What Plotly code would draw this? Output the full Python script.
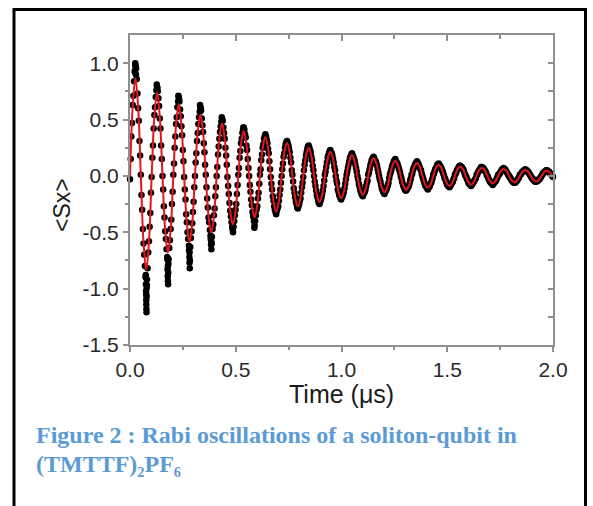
import plotly.graph_objects as go

# ---------------- data ----------------
# measured <Sx> samples, time in microseconds
t_us = [
    0, 0.0032, 0.0064, 0.0096, 0.0128, 0.016, 0.0192, 0.0224, 0.0256, 0.0288,
    0.032, 0.0352, 0.0384, 0.0416, 0.0448, 0.048, 0.0512, 0.0544, 0.0576, 0.0608,
    0.064, 0.0672, 0.0704, 0.0736, 0.0768, 0.08, 0.0832, 0.0864, 0.0896, 0.0928,
    0.096, 0.0992, 0.1024, 0.1056, 0.1088, 0.112, 0.1152, 0.1184, 0.1216, 0.1248,
    0.128, 0.1312, 0.1344, 0.1376, 0.1408, 0.144, 0.1472, 0.1504, 0.1536, 0.1568,
    0.16, 0.1632, 0.1664, 0.1696, 0.1728, 0.176, 0.1792, 0.1824, 0.1856, 0.1888,
    0.192, 0.1952, 0.1984, 0.2016, 0.2048, 0.208, 0.2112, 0.2144, 0.2176, 0.2208,
    0.224, 0.2272, 0.2304, 0.2336, 0.2368, 0.24, 0.2432, 0.2464, 0.2496, 0.2528,
    0.256, 0.2592, 0.2624, 0.2656, 0.2688, 0.272, 0.2752, 0.2784, 0.2816, 0.2848,
    0.288, 0.2912, 0.2944, 0.2976, 0.3008, 0.304, 0.3072, 0.3104, 0.3136, 0.3168,
    0.32, 0.3232, 0.3264, 0.3296, 0.3328, 0.336, 0.3392, 0.3424, 0.3456, 0.3488,
    0.352, 0.3552, 0.3584, 0.3616, 0.3648, 0.368, 0.3712, 0.3744, 0.3776, 0.3808,
    0.384, 0.3872, 0.3904, 0.3936, 0.3968, 0.4, 0.4032, 0.4064, 0.4096, 0.4128,
    0.416, 0.4192, 0.4224, 0.4256, 0.4288, 0.432, 0.4352, 0.4384, 0.4416, 0.4448,
    0.448, 0.4512, 0.4544, 0.4576, 0.4608, 0.464, 0.4672, 0.4704, 0.4736, 0.4768,
    0.48, 0.4832, 0.4864, 0.4896, 0.4928, 0.496, 0.4992, 0.5024, 0.5056, 0.5088,
    0.512, 0.5152, 0.5184, 0.5216, 0.5248, 0.528, 0.5312, 0.5344, 0.5376, 0.5408,
    0.544, 0.5472, 0.5504, 0.5536, 0.5568, 0.56, 0.5632, 0.5664, 0.5696, 0.5728,
    0.576, 0.5792, 0.5824, 0.5856, 0.5888, 0.592, 0.5952, 0.5984, 0.6016, 0.6048,
    0.608, 0.6112, 0.6144, 0.6176, 0.6208, 0.624, 0.6272, 0.6304, 0.6336, 0.6368,
    0.64, 0.6432, 0.6464, 0.6496, 0.6528, 0.656, 0.6592, 0.6624, 0.6656, 0.6688,
    0.672, 0.6752, 0.6784, 0.6816, 0.6848, 0.688, 0.6912, 0.6944, 0.6976, 0.7008,
    0.704, 0.7072, 0.7104, 0.7136, 0.7168, 0.72, 0.7232, 0.7264, 0.7296, 0.7328,
    0.736, 0.7392, 0.7424, 0.7456, 0.7488, 0.752, 0.7552, 0.7584, 0.7616, 0.7648,
    0.768, 0.7712, 0.7744, 0.7776, 0.7808, 0.784, 0.7872, 0.7904, 0.7936, 0.7968,
    0.8, 0.8032, 0.8064, 0.8096, 0.8128, 0.816, 0.8192, 0.8224, 0.8256, 0.8288,
    0.832, 0.8352, 0.8384, 0.8416, 0.8448, 0.848, 0.8512, 0.8544, 0.8576, 0.8608,
    0.864, 0.8672, 0.8704, 0.8736, 0.8768, 0.88, 0.8832, 0.8864, 0.8896, 0.8928,
    0.896, 0.8992, 0.9024, 0.9056, 0.9088, 0.912, 0.9152, 0.9184, 0.9216, 0.9248,
    0.928, 0.9312, 0.9344, 0.9376, 0.9408, 0.944, 0.9472, 0.9504, 0.9536, 0.9568,
    0.96, 0.9632, 0.9664, 0.9696, 0.9728, 0.976, 0.9792, 0.9824, 0.9856, 0.9888,
    0.992, 0.9952, 0.9984, 1.0016, 1.0048, 1.008, 1.0112, 1.0144, 1.0176, 1.0208,
    1.024, 1.0272, 1.0304, 1.0336, 1.0368, 1.04, 1.0432, 1.0464, 1.0496, 1.0528,
    1.056, 1.0592, 1.0624, 1.0656, 1.0688, 1.072, 1.0752, 1.0784, 1.0816, 1.0848,
    1.088, 1.0912, 1.0944, 1.0976, 1.1008, 1.104, 1.1072, 1.1104, 1.1136, 1.1168,
    1.12, 1.1232, 1.1264, 1.1296, 1.1328, 1.136, 1.1392, 1.1424, 1.1456, 1.1488,
    1.152, 1.1552, 1.1584, 1.1616, 1.1648, 1.168, 1.1712, 1.1744, 1.1776, 1.1808,
    1.184, 1.1872, 1.1904, 1.1936, 1.1968, 1.2, 1.2032, 1.2064, 1.2096, 1.2128,
    1.216, 1.2192, 1.2224, 1.2256, 1.2288, 1.232, 1.2352, 1.2384, 1.2416, 1.2448,
    1.248, 1.2512, 1.2544, 1.2576, 1.2608, 1.264, 1.2672, 1.2704, 1.2736, 1.2768,
    1.28, 1.2832, 1.2864, 1.2896, 1.2928, 1.296, 1.2992, 1.3024, 1.3056, 1.3088,
    1.312, 1.3152, 1.3184, 1.3216, 1.3248, 1.328, 1.3312, 1.3344, 1.3376, 1.3408,
    1.344, 1.3472, 1.3504, 1.3536, 1.3568, 1.36, 1.3632, 1.3664, 1.3696, 1.3728,
    1.376, 1.3792, 1.3824, 1.3856, 1.3888, 1.392, 1.3952, 1.3984, 1.4016, 1.4048,
    1.408, 1.4112, 1.4144, 1.4176, 1.4208, 1.424, 1.4272, 1.4304, 1.4336, 1.4368,
    1.44, 1.4432, 1.4464, 1.4496, 1.4528, 1.456, 1.4592, 1.4624, 1.4656, 1.4688,
    1.472, 1.4752, 1.4784, 1.4816, 1.4848, 1.488, 1.4912, 1.4944, 1.4976, 1.5008,
    1.504, 1.5072, 1.5104, 1.5136, 1.5168, 1.52, 1.5232, 1.5264, 1.5296, 1.5328,
    1.536, 1.5392, 1.5424, 1.5456, 1.5488, 1.552, 1.5552, 1.5584, 1.5616, 1.5648,
    1.568, 1.5712, 1.5744, 1.5776, 1.5808, 1.584, 1.5872, 1.5904, 1.5936, 1.5968,
    1.6, 1.6032, 1.6064, 1.6096, 1.6128, 1.616, 1.6192, 1.6224, 1.6256, 1.6288,
    1.632, 1.6352, 1.6384, 1.6416, 1.6448, 1.648, 1.6512, 1.6544, 1.6576, 1.6608,
    1.664, 1.6672, 1.6704, 1.6736, 1.6768, 1.68, 1.6832, 1.6864, 1.6896, 1.6928,
    1.696, 1.6992, 1.7024, 1.7056, 1.7088, 1.712, 1.7152, 1.7184, 1.7216, 1.7248,
    1.728, 1.7312, 1.7344, 1.7376, 1.7408, 1.744, 1.7472, 1.7504, 1.7536, 1.7568,
    1.76, 1.7632, 1.7664, 1.7696, 1.7728, 1.776, 1.7792, 1.7824, 1.7856, 1.7888,
    1.792, 1.7952, 1.7984, 1.8016, 1.8048, 1.808, 1.8112, 1.8144, 1.8176, 1.8208,
    1.824, 1.8272, 1.8304, 1.8336, 1.8368, 1.84, 1.8432, 1.8464, 1.8496, 1.8528,
    1.856, 1.8592, 1.8624, 1.8656, 1.8688, 1.872, 1.8752, 1.8784, 1.8816, 1.8848,
    1.888, 1.8912, 1.8944, 1.8976, 1.9008, 1.904, 1.9072, 1.9104, 1.9136, 1.9168,
    1.92, 1.9232, 1.9264, 1.9296, 1.9328, 1.936, 1.9392, 1.9424, 1.9456, 1.9488,
    1.952, 1.9552, 1.9584, 1.9616, 1.9648, 1.968, 1.9712, 1.9744, 1.9776, 1.9808,
    1.984, 1.9872, 1.9904, 1.9936, 1.9968, 2.0,
]

sx = [
    -0.03, 0.15, 0.35, 0.47, 0.63, 0.71, 0.84, 0.93, 0.98, 0.95, 0.86, 0.73, 0.60, 0.49, 0.31, 0.18,
    0.01, -0.17, -0.30, -0.47, -0.60, -0.70, -0.80, -0.90, -1.05, -0.97, -0.82, -0.68, -0.58, -0.45, -0.33, -0.15,
    -0.01, 0.16, 0.27, 0.42, 0.54, 0.61, 0.70, 0.76, 0.79, 0.75, 0.69, 0.62, 0.51, 0.42, 0.27, 0.15,
    0.00, -0.12, -0.27, -0.37, -0.49, -0.56, -0.65, -0.72, -0.80, -0.74, -0.64, -0.57, -0.47, -0.39, -0.25, -0.14,
    0.01, 0.11, 0.25, 0.35, 0.46, 0.52, 0.61, 0.66, 0.70, 0.66, 0.59, 0.53, 0.44, 0.36, 0.23, 0.13,
    -0.01, -0.12, -0.21, -0.34, -0.41, -0.50, -0.56, -0.62, -0.68, -0.63, -0.55, -0.49, -0.42, -0.32, -0.23, -0.10,
    0.00, 0.12, 0.20, 0.31, 0.38, 0.46, 0.52, 0.57, 0.61, 0.58, 0.51, 0.45, 0.39, 0.29, 0.21, 0.10,
    0.01, -0.10, -0.20, -0.28, -0.37, -0.41, -0.48, -0.53, -0.58, -0.54, -0.47, -0.43, -0.35, -0.29, -0.18, -0.10,
    0.00, 0.08, 0.19, 0.26, 0.33, 0.39, 0.44, 0.48, 0.51, 0.49, 0.43, 0.38, 0.33, 0.25, 0.18, 0.10,
    -0.01, -0.09, -0.16, -0.24, -0.31, -0.36, -0.41, -0.45, -0.48, -0.45, -0.40, -0.35, -0.30, -0.25, -0.16, -0.08,
    0.01, 0.07, 0.16, 0.22, 0.29, 0.33, 0.38, 0.41, 0.43, 0.41, 0.37, 0.34, 0.27, 0.23, 0.15, 0.07,
    0.00, -0.08, -0.14, -0.21, -0.26, -0.32, -0.36, -0.40, -0.44, -0.40, -0.35, -0.30, -0.27, -0.20, -0.15, -0.07,
    0.01, 0.06, 0.14, 0.19, 0.25, 0.28, 0.33, 0.35, 0.37, 0.35, 0.32, 0.29, 0.24, 0.20, 0.13, 0.06,
    -0.01, -0.07, -0.12, -0.18, -0.22, -0.27, -0.30, -0.32, -0.34, -0.31, -0.29, -0.27, -0.22, -0.17, -0.12, -0.06,
    0.00, 0.06, 0.11, 0.17, 0.20, 0.25, 0.28, 0.30, 0.31, 0.29, 0.27, 0.24, 0.21, 0.16, 0.12, 0.05,
    0.01, -0.05, -0.11, -0.15, -0.19, -0.23, -0.25, -0.28, -0.29, -0.27, -0.25, -0.22, -0.20, -0.15, -0.10, -0.06,
    -0.01, 0.05, 0.10, 0.14, 0.18, 0.21, 0.24, 0.26, 0.27, 0.25, 0.23, 0.21, 0.17, 0.14, 0.09, 0.05,
    0.00, -0.05, -0.09, -0.13, -0.17, -0.19, -0.22, -0.24, -0.25, -0.23, -0.21, -0.19, -0.16, -0.13, -0.09, -0.04,
    0.01, 0.04, 0.08, 0.12, 0.16, 0.18, 0.20, 0.22, 0.23, 0.21, 0.20, 0.18, 0.15, 0.12, 0.08, 0.05,
    0.00, -0.04, -0.07, -0.12, -0.14, -0.17, -0.18, -0.20, -0.21, -0.19, -0.18, -0.16, -0.14, -0.11, -0.07, -0.03,
    0.01, 0.04, 0.07, 0.10, 0.13, 0.16, 0.17, 0.19, 0.20, 0.18, 0.17, 0.15, 0.13, 0.10, 0.07, 0.04,
    0.00, -0.03, -0.07, -0.09, -0.12, -0.14, -0.16, -0.17, -0.18, -0.16, -0.15, -0.14, -0.12, -0.09, -0.06, -0.04,
    0.01, 0.03, 0.06, 0.09, 0.11, 0.14, 0.15, 0.16, 0.17, 0.15, 0.14, 0.13, 0.11, 0.09, 0.06, 0.03,
    0.00, -0.03, -0.05, -0.08, -0.11, -0.12, -0.14, -0.15, -0.16, -0.14, -0.13, -0.12, -0.10, -0.08, -0.06, -0.02,
    0.01, 0.03, 0.05, 0.08, 0.10, 0.11, 0.13, 0.14, 0.15, 0.13, 0.12, 0.11, 0.09, 0.07, 0.05, 0.03,
    0.00, -0.02, -0.05, -0.07, -0.09, -0.10, -0.12, -0.13, -0.13, -0.12, -0.11, -0.10, -0.09, -0.07, -0.04, -0.02,
    0.01, 0.02, 0.05, 0.07, 0.08, 0.10, 0.11, 0.12, 0.13, 0.11, 0.11, 0.09, 0.08, 0.06, 0.05, 0.02,
    0.00, -0.02, -0.04, -0.06, -0.08, -0.09, -0.10, -0.11, -0.12, -0.10, -0.10, -0.09, -0.07, -0.06, -0.04, -0.02,
    0.01, 0.02, 0.04, 0.06, 0.07, 0.08, 0.10, 0.10, 0.11, 0.10, 0.09, 0.08, 0.07, 0.05, 0.04, 0.02,
    0.00, -0.02, -0.03, -0.05, -0.07, -0.08, -0.09, -0.09, -0.10, -0.09, -0.08, -0.07, -0.06, -0.05, -0.03, -0.02,
    0.01, 0.02, 0.03, 0.05, 0.06, 0.07, 0.08, 0.09, 0.09, 0.08, 0.08, 0.07, 0.06, 0.05, 0.03, 0.01,
    0.00, -0.01, -0.03, -0.04, -0.06, -0.07, -0.07, -0.08, -0.09, -0.08, -0.07, -0.06, -0.05, -0.04, -0.03, -0.02,
    0.01, 0.01, 0.03, 0.04, 0.05, 0.06, 0.07, 0.08, 0.08, 0.07, 0.07, 0.06, 0.05, 0.04, 0.03, 0.01,
    0.00, -0.01, -0.03, -0.04, -0.05, -0.06, -0.06, -0.07, -0.08, -0.07, -0.06, -0.05, -0.05, -0.04, -0.02, -0.01,
    0.01, 0.01, 0.02, 0.03, 0.04, 0.05, 0.06, 0.06, 0.07, 0.06, 0.06, 0.05, 0.04, 0.03, 0.02, 0.01,
    0.00, -0.01, -0.02, -0.03, -0.04, -0.05, -0.05, -0.06, -0.06, -0.06, -0.05, -0.05, -0.04, -0.03, -0.02, -0.01,
    0.01, 0.01, 0.02, 0.03, 0.04, 0.04, 0.05, 0.05, 0.06, 0.05, 0.05, 0.04, 0.04, 0.03, 0.02, 0.01,
    0.00, -0.01, -0.02, -0.03, -0.03, -0.04, -0.05, -0.05, -0.05, -0.05, -0.04, -0.04, -0.03, -0.03, -0.02, -0.01,
    0.00, 0.01, 0.02, 0.03, 0.03, 0.04, 0.04, 0.05, 0.05, 0.04, 0.04, 0.04, 0.03, 0.02, 0.02, 0.01,
    0.00, -0.01,
]

# additional (repeated) samples clustered at the first extrema
t_us_extra = [
    0.0744, 0.0752, 0.0760, 0.0768, 0.0772, 0.0776, 0.0780, 0.0784, 0.0792, 0.0800,
    0.1768, 0.1776, 0.1784, 0.1792, 0.1800, 0.1808, 0.1816,
    0.2792, 0.2808, 0.2816, 0.2824, 0.2832,
    0.3816, 0.3832, 0.3848, 0.3864,
    0.4856, 0.4872, 0.5880,
    0.0232, 0.0248, 0.0264, 0.0280, 0.1264, 0.1296, 0.2288, 0.2320,
    0.3312, 0.3344, 0.4336, 0.5360,
]
sx_extra = [
    -0.88, -0.96, -1.02, -1.10, -1.14, -1.18, -1.21, -1.07, -0.99, -0.92,
    -0.74, -0.83, -0.89, -0.93, -0.96, -0.86, -0.78,
    -0.66, -0.72, -0.77, -0.82, -0.75,
    -0.56, -0.61, -0.65, -0.60,
    -0.47, -0.50, -0.46,
    0.92, 1.00, 0.97, 0.90, 0.81, 0.78, 0.71, 0.68,
    0.63, 0.60, 0.52, 0.43,
]

# red fitted curve (damped Rabi oscillation), read at 1/8-period nodes
t_fit = [
    0, 0.0128, 0.0256, 0.0384, 0.0512, 0.064, 0.0768, 0.0896, 0.1024, 0.1152,
    0.128, 0.1408, 0.1536, 0.1664, 0.1792, 0.192, 0.2048, 0.2176, 0.2304, 0.2432,
    0.256, 0.2688, 0.2816, 0.2944, 0.3072, 0.32, 0.3328, 0.3456, 0.3584, 0.3712,
    0.384, 0.3968, 0.4096, 0.4224, 0.4352, 0.448, 0.4608, 0.4736, 0.4864, 0.4992,
    0.512, 0.5248, 0.5376, 0.5504, 0.5632, 0.576, 0.5888, 0.6016, 0.6144, 0.6272,
    0.64, 0.6528, 0.6656, 0.6784, 0.6912, 0.704, 0.7168, 0.7296, 0.7424, 0.7552,
    0.768, 0.7808, 0.7936, 0.8064, 0.8192, 0.832, 0.8448, 0.8576, 0.8704, 0.8832,
    0.896, 0.9088, 0.9216, 0.9344, 0.9472, 0.96, 0.9728, 0.9856, 0.9984, 1.0112,
    1.024, 1.0368, 1.0496, 1.0624, 1.0752, 1.088, 1.1008, 1.1136, 1.1264, 1.1392,
    1.152, 1.1648, 1.1776, 1.1904, 1.2032, 1.216, 1.2288, 1.2416, 1.2544, 1.2672,
    1.28, 1.2928, 1.3056, 1.3184, 1.3312, 1.344, 1.3568, 1.3696, 1.3824, 1.3952,
    1.408, 1.4208, 1.4336, 1.4464, 1.4592, 1.472, 1.4848, 1.4976, 1.5104, 1.5232,
    1.536, 1.5488, 1.5616, 1.5744, 1.5872, 1.6, 1.6128, 1.6256, 1.6384, 1.6512,
    1.664, 1.6768, 1.6896, 1.7024, 1.7152, 1.728, 1.7408, 1.7536, 1.7664, 1.7792,
    1.792, 1.8048, 1.8176, 1.8304, 1.8432, 1.856, 1.8688, 1.8816, 1.8944, 1.9072,
    1.92, 1.9328, 1.9456, 1.9584, 1.9712, 1.984, 1.9968, 2.0,
]
sx_fit = [
    0, 0.613, 0.867, 0.613, 0, -0.587, -0.83, -0.587,
    0, 0.524, 0.741, 0.524, 0, -0.481, -0.68, -0.481,
    0, 0.449, 0.635, 0.449, 0, -0.415, -0.587, -0.415,
    0, 0.384, 0.543, 0.384, 0, -0.356, -0.503, -0.356,
    0, 0.329, 0.465, 0.329, 0, -0.304, -0.43, -0.304,
    0, 0.281, 0.398, 0.281, 0, -0.26, -0.368, -0.26,
    0, 0.244, 0.345, 0.244, 0, -0.223, -0.315, -0.223,
    0, 0.206, 0.292, 0.206, 0, -0.191, -0.27, -0.191,
    0, 0.177, 0.25, 0.177, 0, -0.163, -0.231, -0.163,
    0, 0.151, 0.214, 0.151, 0, -0.14, -0.198, -0.14,
    0, 0.129, 0.183, 0.129, 0, -0.119, -0.169, -0.119,
    0, 0.111, 0.157, 0.111, 0, -0.103, -0.145, -0.103,
    0, 0.095, 0.134, 0.095, 0, -0.088, -0.124, -0.088,
    0, 0.081, 0.115, 0.081, 0, -0.075, -0.106, -0.075,
    0, 0.07, 0.099, 0.07, 0, -0.064, -0.091, -0.064,
    0, 0.059, 0.084, 0.059, 0, -0.055, -0.078, -0.055,
    0, 0.051, 0.072, 0.051, 0, -0.047, -0.067, -0.047,
    0, 0.044, 0.062, 0.044, 0, -0.04, -0.057, -0.04,
    0, 0.037, 0.053, 0.037, 0, -0.035, -0.049, -0.035,
    0, 0.032, 0.045, 0.032,
    0, -0.006,
]

x_tick_vals = [0.0, 0.5, 1.0, 1.5, 2.0]
x_tick_text = ["0.0", "0.5", "1.0", "1.5", "2.0"]
x_minor_vals = [0.25, 0.75, 1.25, 1.75]
y_tick_vals = [-1.5, -1.0, -0.5, 0.0, 0.5, 1.0]
y_tick_text = ["-1.5", "-1.0", "-0.5", "0.0", "0.5", "1.0"]
y_minor_vals = [-1.25, -0.75, -0.25, 0.25, 0.75]
y_right_vals = [-1.25, -1.0, -0.75, -0.5, -0.25, 0.0, 0.25, 0.5, 0.75, 1.0]

x_title = "Time (μs)"
y_title = "&lt;Sx&gt;"
caption_1 = "Figure 2 : Rabi oscillations of a soliton-qubit in"
caption_2 = "(TMTTF)₂PF₆"

# ---------------- layout helpers ----------------
W, H = 593, 506
ML, MR, MT, MB = 130, 40, 35, 161
PW, PH = W - ML - MR, H - MT - MB


def px_x(p):
    return (p - ML) / PW


def px_y(p):
    return 1 - (p - MT) / PH


AX = "#8f8f8f"
SANS = "Liberation Sans, Arial, sans-serif"
SERIF = "Liberation Serif, Times New Roman, DejaVu Serif, serif"
TICKFONT = dict(family=SANS, size=21, color="#2a2a2a")
CAPFONT = dict(family=SERIF, size=24, color="#5b9bd5", weight="bold")

fig = go.Figure()
fig.add_trace(go.Scatter(
    x=t_us + t_us_extra, y=sx + sx_extra, mode="markers",
    marker=dict(color="black", size=6.5, line=dict(width=0)),
    cliponaxis=False, showlegend=False, hoverinfo="skip",
))
fig.add_trace(go.Scatter(
    x=t_fit, y=sx_fit, mode="lines",
    line=dict(color="#e3161d", width=2, shape="spline", smoothing=1.1),
    showlegend=False, hoverinfo="skip",
))
fig.add_trace(go.Scatter(x=[], y=[], xaxis="x2", yaxis="y2", showlegend=False))

fig.update_layout(
    width=W, height=H,
    margin=dict(l=ML, r=MR, t=MT, b=MB, pad=0),
    paper_bgcolor="white", plot_bgcolor="white",
    xaxis=dict(
        range=[0, 2.0], showgrid=False, zeroline=False,
        showline=True, linecolor=AX, linewidth=2,
        ticks="outside", ticklen=5, tickwidth=1.5, tickcolor=AX,
        tickmode="array", tickvals=x_tick_vals, ticktext=x_tick_text,
        tickfont=TICKFONT,
        minor=dict(tickmode="array", tickvals=x_minor_vals, ticks="outside",
                   ticklen=3, tickwidth=1.5, tickcolor=AX, showgrid=False),
    ),
    yaxis=dict(
        range=[-1.5, 1.25], showgrid=False, zeroline=False,
        showline=True, linecolor=AX, linewidth=2,
        ticks="outside", ticklen=5, tickwidth=1.5, tickcolor=AX,
        tickmode="array", tickvals=y_tick_vals, ticktext=y_tick_text,
        tickfont=TICKFONT,
        minor=dict(tickmode="array", tickvals=y_minor_vals, ticks="outside",
                   ticklen=3, tickwidth=1.5, tickcolor=AX, showgrid=False),
    ),
    xaxis2=dict(
        overlaying="x", side="top", anchor="y", range=[0, 2.0],
        showgrid=False, zeroline=False, showline=True, linecolor=AX, linewidth=2,
        ticks="inside", ticklen=6, tickwidth=1.5, tickcolor=AX,
        tickmode="array", tickvals=x_tick_vals, showticklabels=False,
        minor=dict(tickmode="array", tickvals=x_minor_vals, ticks="inside",
                   ticklen=4, tickwidth=1.5, tickcolor=AX, showgrid=False),
    ),
    yaxis2=dict(
        overlaying="y", side="right", anchor="x", range=[-1.5, 1.25],
        showgrid=False, zeroline=False, showline=True, linecolor=AX, linewidth=2,
        ticks="inside", ticklen=5, tickwidth=1.5, tickcolor=AX,
        tickmode="array", tickvals=y_right_vals, showticklabels=False,
    ),
    annotations=[
        dict(text=x_title, x=0.5, y=px_y(394), xref="paper", yref="paper",
             xanchor="center", yanchor="middle", showarrow=False,
             font=dict(family=SANS, size=25, color="#1a1a1a")),
        dict(text=y_title, x=px_x(62), y=px_y(205), xref="paper", yref="paper",
             xanchor="center", yanchor="middle", showarrow=False, textangle=-90,
             font=dict(family=SANS, size=23, color="#1a1a1a")),
        dict(text=caption_1, x=px_x(34), y=px_y(435), xref="paper", yref="paper",
             xanchor="left", yanchor="middle", showarrow=False, font=CAPFONT),
        dict(text=caption_2, x=px_x(34), y=px_y(464), xref="paper", yref="paper",
             xanchor="left", yanchor="middle", showarrow=False, font=CAPFONT),
    ],
    shapes=[
        dict(type="rect", xref="paper", yref="paper",
             x0=px_x(14), x1=px_x(585.5), y0=px_y(620), y1=px_y(9.5),
             line=dict(color="black", width=3), fillcolor="rgba(0,0,0,0)", layer="above"),
    ],
)

fig.write_html(
    "out.html",
    config={"displayModeBar": False},
    post_script="document.body.style.margin='0px';document.body.style.overflow='hidden';",
)
